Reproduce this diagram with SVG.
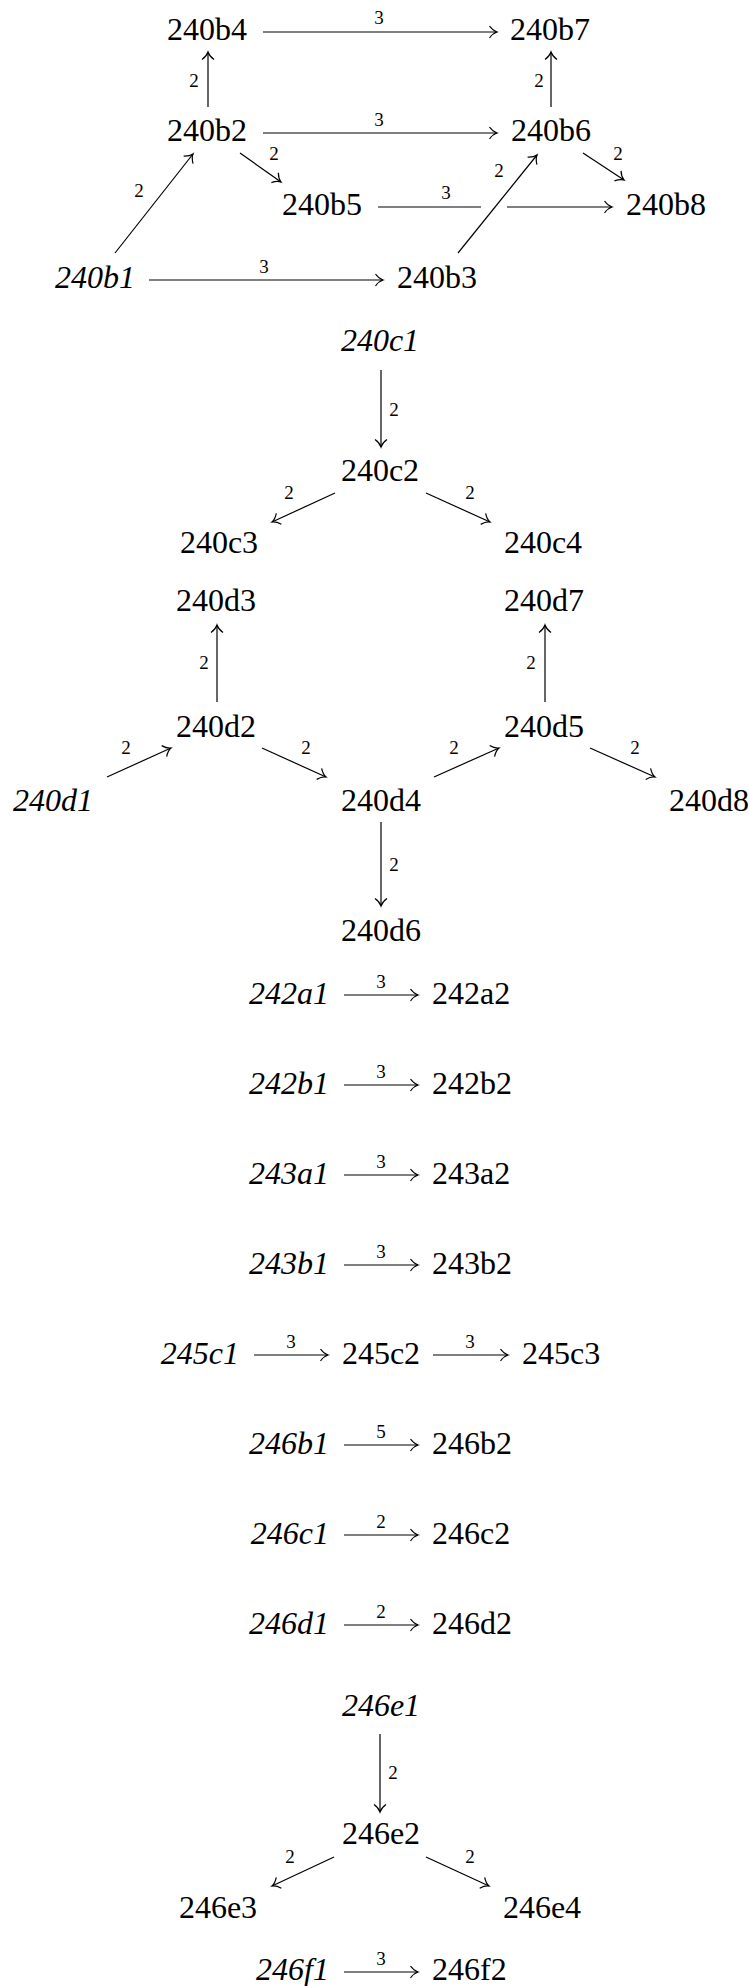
<svg xmlns="http://www.w3.org/2000/svg" width="749" height="1986" viewBox="0 0 749 1986">
<style>
text{font-family:"Liberation Serif","Times New Roman",Times,Tinos,"Noto Serif","DejaVu Serif",FreeSerif,serif}
.n{font-size:32px;fill:#000;text-anchor:middle}
.i{font-style:italic}
.s{text-anchor:start}
.e{text-anchor:end}
.l{font-size:19px;fill:#000;text-anchor:middle}
.c line{stroke:#000;stroke-width:1.2;fill:none}
.a{marker-end:url(#ah)}
</style>
<defs>
<marker id="ah" markerUnits="userSpaceOnUse" viewBox="-10 -8 12 16" refX="0" refY="0" markerWidth="12" markerHeight="16" orient="auto" overflow="visible">
<path d="M-7.5,-6 C-5,-2.5 -2,-0.6 0,0 C-2,0.6 -5,2.5 -7.5,6" fill="none" stroke="#000" stroke-width="1.2"/>
</marker>
</defs>
<rect width="749" height="1986" fill="#fff"/>
<g id="connectors" class="c">
<line class="a" x1="263" y1="32" x2="497" y2="32"/>
<line class="a" x1="208" y1="107" x2="208" y2="52"/>
<line class="a" x1="551" y1="107" x2="551" y2="52"/>
<line class="a" x1="263" y1="133" x2="497" y2="133"/>
<line class="a" x1="240" y1="153" x2="281" y2="182"/>
<line class="a" x1="583" y1="153" x2="624" y2="180"/>
<line class="a" x1="458" y1="253" x2="537" y2="155"/>
<line class="a" x1="115" y1="253" x2="193" y2="154"/>
<line x1="378" y1="207" x2="481" y2="207"/>
<line class="a" x1="507" y1="207" x2="612" y2="207"/>
<line class="a" x1="149" y1="280" x2="383" y2="280"/>
<line class="a" x1="381" y1="370" x2="381" y2="447"/>
<line class="a" x1="335" y1="493" x2="272" y2="522"/>
<line class="a" x1="426" y1="493" x2="490" y2="522"/>
<line class="a" x1="217" y1="702" x2="217" y2="625"/>
<line class="a" x1="545" y1="702" x2="545" y2="625"/>
<line class="a" x1="107" y1="777" x2="171" y2="748"/>
<line class="a" x1="262" y1="748" x2="326" y2="777"/>
<line class="a" x1="434" y1="777" x2="499" y2="748"/>
<line class="a" x1="590" y1="748" x2="655" y2="777"/>
<line class="a" x1="381" y1="822" x2="381" y2="906"/>
<line class="a" x1="344" y1="995" x2="418" y2="995"/>
<line class="a" x1="344" y1="1085" x2="418" y2="1085"/>
<line class="a" x1="344" y1="1175" x2="418" y2="1175"/>
<line class="a" x1="344" y1="1265" x2="418" y2="1265"/>
<line class="a" x1="254" y1="1355" x2="328" y2="1355"/>
<line class="a" x1="433" y1="1355" x2="508" y2="1355"/>
<line class="a" x1="344" y1="1445" x2="418" y2="1445"/>
<line class="a" x1="344" y1="1535" x2="418" y2="1535"/>
<line class="a" x1="344" y1="1625" x2="418" y2="1625"/>
<line class="a" x1="380" y1="1734" x2="380" y2="1812"/>
<line class="a" x1="334" y1="1857" x2="272" y2="1886"/>
<line class="a" x1="426" y1="1857" x2="489" y2="1886"/>
<line class="a" x1="344" y1="1972" x2="418" y2="1972"/>
</g>
<g id="labels">
<text class="l" x="379" y="24">3</text>
<text class="l" x="194" y="87">2</text>
<text class="l" x="539" y="87">2</text>
<text class="l" x="379" y="126">3</text>
<text class="l" x="274" y="160">2</text>
<text class="l" x="618" y="160">2</text>
<text class="l" x="499" y="177">2</text>
<text class="l" x="139" y="197">2</text>
<text class="l" x="446" y="199">3</text>
<text class="l" x="264" y="273">3</text>
<text class="l" x="394" y="416">2</text>
<text class="l" x="289" y="499">2</text>
<text class="l" x="470" y="499">2</text>
<text class="l" x="204" y="669">2</text>
<text class="l" x="531" y="669">2</text>
<text class="l" x="126" y="754">2</text>
<text class="l" x="306" y="754">2</text>
<text class="l" x="454" y="754">2</text>
<text class="l" x="635" y="754">2</text>
<text class="l" x="394" y="871">2</text>
<text class="l" x="381" y="988">3</text>
<text class="l" x="381" y="1078">3</text>
<text class="l" x="381" y="1168">3</text>
<text class="l" x="381" y="1258">3</text>
<text class="l" x="291" y="1348">3</text>
<text class="l" x="470" y="1348">3</text>
<text class="l" x="381" y="1438">5</text>
<text class="l" x="381" y="1528">2</text>
<text class="l" x="381" y="1618">2</text>
<text class="l" x="393" y="1779">2</text>
<text class="l" x="290" y="1863">2</text>
<text class="l" x="470" y="1863">2</text>
<text class="l" x="381" y="1965">3</text>
</g>
<g id="nodes">
<g id="n240b4"><text class="n" x="207" y="40">240b4</text></g>
<g id="n240b7"><text class="n" x="550" y="40">240b7</text></g>
<g id="n240b2"><text class="n" x="207" y="141">240b2</text></g>
<g id="n240b6"><text class="n" x="551" y="141">240b6</text></g>
<g id="n240b5"><text class="n" x="322" y="215">240b5</text></g>
<g id="n240b8"><text class="n" x="666" y="215">240b8</text></g>
<g id="n240b1"><text class="n i" x="95" y="288">240b1</text></g>
<g id="n240b3"><text class="n" x="437" y="288">240b3</text></g>
<g id="n240c1"><text class="n i" x="380" y="351">240c1</text></g>
<g id="n240c2"><text class="n" x="380" y="481">240c2</text></g>
<g id="n240c3"><text class="n" x="219" y="553">240c3</text></g>
<g id="n240c4"><text class="n" x="543" y="553">240c4</text></g>
<g id="n240d3"><text class="n" x="216" y="611">240d3</text></g>
<g id="n240d7"><text class="n" x="544" y="611">240d7</text></g>
<g id="n240d2"><text class="n" x="216" y="737">240d2</text></g>
<g id="n240d5"><text class="n" x="544" y="737">240d5</text></g>
<g id="n240d1"><text class="n i" x="53" y="811">240d1</text></g>
<g id="n240d4"><text class="n" x="381" y="811">240d4</text></g>
<g id="n240d8"><text class="n" x="709" y="811">240d8</text></g>
<g id="n240d6"><text class="n" x="381" y="941">240d6</text></g>
<g id="n242a1"><text class="n i e" x="329" y="1004">242a1</text></g>
<g id="n242a2"><text class="n s" x="432" y="1004">242a2</text></g>
<g id="n242b1"><text class="n i e" x="329" y="1094">242b1</text></g>
<g id="n242b2"><text class="n s" x="432" y="1094">242b2</text></g>
<g id="n243a1"><text class="n i e" x="329" y="1184">243a1</text></g>
<g id="n243a2"><text class="n s" x="432" y="1184">243a2</text></g>
<g id="n243b1"><text class="n i e" x="329" y="1274">243b1</text></g>
<g id="n243b2"><text class="n s" x="432" y="1274">243b2</text></g>
<g id="n245c1"><text class="n i e" x="239" y="1364">245c1</text></g>
<g id="n245c2"><text class="n" x="381" y="1364">245c2</text></g>
<g id="n245c3"><text class="n s" x="522" y="1364">245c3</text></g>
<g id="n246b1"><text class="n i e" x="329" y="1454">246b1</text></g>
<g id="n246b2"><text class="n s" x="432" y="1454">246b2</text></g>
<g id="n246c1"><text class="n i e" x="329" y="1544">246c1</text></g>
<g id="n246c2"><text class="n s" x="432" y="1544">246c2</text></g>
<g id="n246d1"><text class="n i e" x="329" y="1634">246d1</text></g>
<g id="n246d2"><text class="n s" x="432" y="1634">246d2</text></g>
<g id="n246e1"><text class="n i" x="381" y="1716">246e1</text></g>
<g id="n246e2"><text class="n" x="381" y="1844">246e2</text></g>
<g id="n246e3"><text class="n" x="218" y="1918">246e3</text></g>
<g id="n246e4"><text class="n" x="542" y="1918">246e4</text></g>
<g id="n246f1"><text class="n i e" x="329" y="1980">246f1</text></g>
<g id="n246f2"><text class="n s" x="432" y="1980">246f2</text></g>
</g>
</svg>
